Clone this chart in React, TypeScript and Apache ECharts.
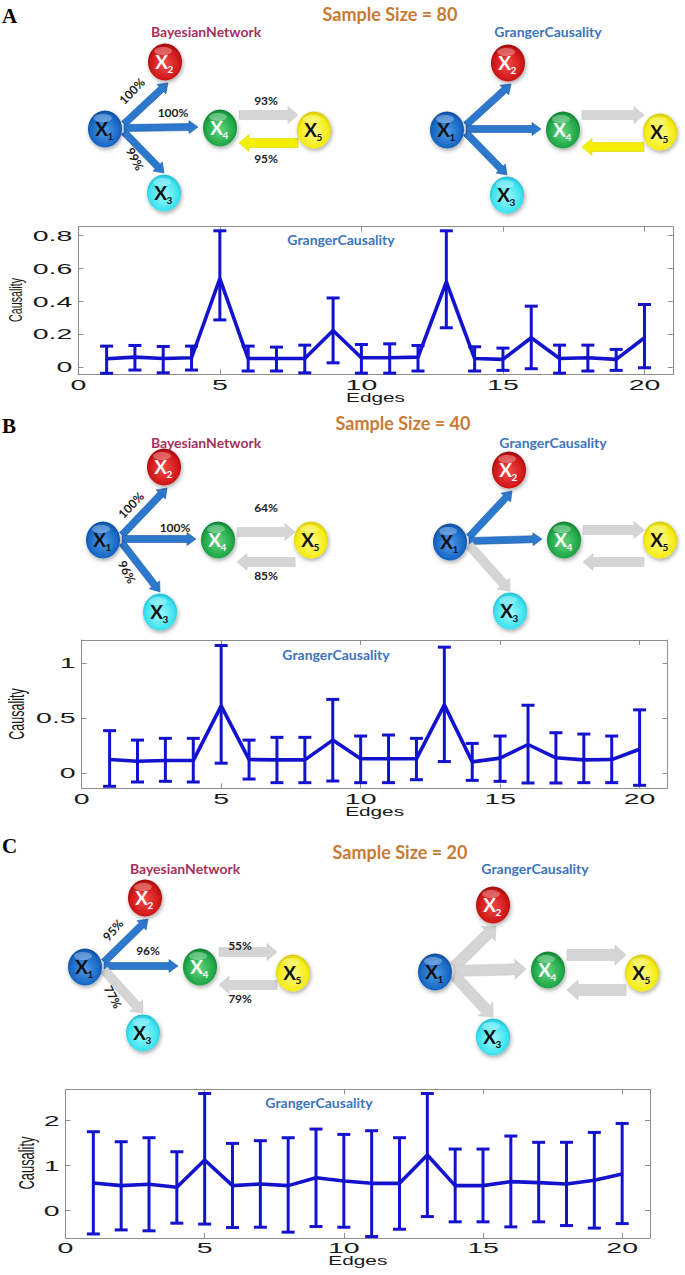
import React, { useEffect, useRef } from "react";
import * as echarts from "echarts";

// ---------------- data ----------------
const edges = [1, 2, 3, 4, 5, 6, 7, 8, 9, 10, 11, 12, 13, 14, 15, 16, 17, 18, 19, 20];

const meanA = [0.049, 0.059, 0.05, 0.055, 0.538, 0.05, 0.05, 0.05, 0.221, 0.055, 0.055, 0.059, 0.518, 0.05, 0.045, 0.177, 0.05, 0.055, 0.045, 0.177];
const highA = [0.126, 0.13, 0.124, 0.126, 0.83, 0.126, 0.12, 0.132, 0.42, 0.136, 0.14, 0.13, 0.83, 0.122, 0.114, 0.37, 0.132, 0.132, 0.106, 0.38];
const lowA = [-0.04, -0.02, -0.037, -0.02, 0.286, -0.026, -0.026, -0.037, 0.024, -0.039, -0.039, -0.026, 0.238, -0.026, -0.022, -0.012, -0.039, -0.026, -0.022, -0.006];

const meanB = [0.123, 0.108, 0.114, 0.114, 0.611, 0.123, 0.12, 0.12, 0.3, 0.13, 0.13, 0.13, 0.62, 0.102, 0.136, 0.26, 0.139, 0.12, 0.123, 0.217];
const highB = [0.386, 0.3, 0.316, 0.316, 1.16, 0.3, 0.325, 0.325, 0.67, 0.337, 0.346, 0.316, 1.145, 0.27, 0.337, 0.617, 0.367, 0.355, 0.337, 0.575];
const lowB = [-0.12, -0.081, -0.075, -0.081, 0.09, -0.054, -0.087, -0.087, -0.072, -0.087, -0.087, -0.06, 0.105, -0.066, -0.075, -0.09, -0.09, -0.087, -0.087, -0.111];

const meanC = [0.615, 0.556, 0.585, 0.52, 1.126, 0.556, 0.593, 0.556, 0.733, 0.66, 0.607, 0.607, 1.237, 0.556, 0.556, 0.644, 0.622, 0.593, 0.674, 0.815];
const highC = [1.756, 1.533, 1.622, 1.31, 2.607, 1.496, 1.556, 1.622, 1.815, 1.696, 1.778, 1.622, 2.607, 1.37, 1.37, 1.66, 1.52, 1.52, 1.74, 1.94];
const lowC = [-0.52, -0.43, -0.45, -0.28, -0.3, -0.378, -0.37, -0.48, -0.355, -0.37, -0.578, -0.415, -0.133, -0.25, -0.25, -0.363, -0.25, -0.333, -0.39, -0.289];

const xTicks = [0, 5, 10, 15, 20];
const yTicksA = [0, 0.2, 0.4, 0.6, 0.8];
const yTicksB = [0, 0.5, 1];
const yTicksC = [0, 1, 2];

const panelLetters = ["A", "B", "C"];
const sampleSizes = [80, 40, 20];
const bnPctA = [100, 100, 99, 93, 95];
const bnPctB = [100, 100, 96, 64, 85];
const bnPctC = [95, 96, 77, 55, 79];

// arrow kinds: X1->X2, X1->X4, X1->X3, X4->X5, X5->X4
const bnKindsA = ["blue", "blue", "blue", "gray", "yellow"];
const gcKindsA = ["blue", "blue", "blue", "gray", "yellow"];
const bnKindsB = ["blue", "blue", "blue", "gray", "gray"];
const gcKindsB = ["blue", "blue", "gray", "gray", "gray"];
const bnKindsC = ["blue", "blue", "gray", "gray", "gray"];
const gcKindsC = ["grayBig", "grayBig", "grayBig", "grayBig", "grayBig"];

// ---------------- layout / style ----------------
const AX_FONT = "'Liberation Sans', Arial, Helvetica, sans-serif";
const LBL_FONT = "Lato, 'Open Sans', 'Noto Sans', sans-serif";
const BOX = "#8e8e8e";
const LINE_BLUE = "#1212cf";

const chartLayout = [
  { left: 78.3, top: 226.7, width: 594.5, height: 147.6, yMin: -0.046, yMax: 0.855, gc: [341, 239], caus: [15, 300, 10.7], edgesPos: [375.5, 397.5] },
  { left: 81.7, top: 640, width: 585.8, height: 148.5, yMin: -0.14, yMax: 1.21, gc: [336, 654], caus: [17, 714, 12.5], edgesPos: [374.6, 811.5] },
  { left: 65.5, top: 1089.3, width: 584.5, height: 148.7, yMin: -0.61, yMax: 2.7, gc: [319, 1102], caus: [27, 1163, 12.9], edgesPos: [357.8, 1261] },
];

const headerLayout = [
  { letter: [2, 16], sample: [390, 14], bn: [206, 31], gcTop: [548, 31] },
  { letter: [2, 426], sample: [403, 423], bn: [206, 442], gcTop: [553, 442] },
  { letter: [2, 846], sample: [400, 852], bn: [185, 868], gcTop: [535, 868] },
];

// node centres X1..X5
const netLayout = [
  {
    bn: { nodes: [[105, 129], [165, 62], [164, 193], [220, 128], [314, 130]], top: 115, bot: 143 },
    gc: { nodes: [[447, 130], [508, 63], [507, 195], [563, 130], [660, 132]], top: 115, bot: 147 },
    labels: [[132, 91, 0.8], [173, 112, 0], [135, 159, -1.1], [266, 100, 0], [266, 158, 0]],
  },
  {
    bn: { nodes: [[103, 540], [164, 467], [160, 612], [218, 540], [311, 540]], top: 532, bot: 562 },
    gc: { nodes: [[450, 542], [509, 470], [510, 611], [564, 540], [660, 540]], top: 530, bot: 562 },
    labels: [[131, 505, 0.8], [175, 527, 0], [127, 572, -1.1], [266, 507, 0], [266, 575, 0]],
  },
  {
    bn: { nodes: [[85, 967], [145, 898], [143, 1033], [200, 967], [293, 973]], top: 952, bot: 985 },
    gc: { nodes: [[435, 972], [493, 905], [493, 1037], [548, 970], [642, 973]], top: 955, bot: 990 },
    labels: [[113, 930, 0.85], [148, 950, 0], [113, 997, -1.1], [240, 945, 0], [240, 998, 0]],
  },
];

const nodeColors = [
  { light: "#4f9ae6", main: "#1766c4", dark: "#0a3b7e", text: "#111" },
  { light: "#f04a4a", main: "#cf1616", dark: "#760606", text: "#fff" },
  { light: "#a4f8fc", main: "#3ae2f0", dark: "#12a6bd", text: "#111" },
  { light: "#5fd47c", main: "#1fa646", dark: "#0a6426", text: "#fff" },
  { light: "#fffb90", main: "#f4ec12", dark: "#bfae00", text: "#111" },
];

const arrowStyles: Record<string, { fill: string; stroke: string; w: number; hw: number; hl: number }> = {
  blue: { fill: "#2c78cc", stroke: "#1c5ca6", w: 7, hw: 13, hl: 9 },
  gray: { fill: "#d5d5d5", stroke: "#c8c8c8", w: 9, hw: 17, hl: 10 },
  yellow: { fill: "#f4ef00", stroke: "#dcd400", w: 9, hw: 17, hl: 10 },
  grayBig: { fill: "#d5d5d5", stroke: "#c8c8c8", w: 11, hw: 20, hl: 11 },
};

function arrowPoints(x1: number, y1: number, x2: number, y2: number, w: number, hw: number, hl: number) {
  const dx = x2 - x1, dy = y2 - y1;
  const L = Math.hypot(dx, dy);
  const ux = dx / L, uy = dy / L;
  const nx = -uy, ny = ux;
  const bx = x2 - ux * hl, by = y2 - uy * hl;
  return [
    [x1 + (nx * w) / 2, y1 + (ny * w) / 2],
    [bx + (nx * w) / 2, by + (ny * w) / 2],
    [bx + (nx * hw) / 2, by + (ny * hw) / 2],
    [x2, y2],
    [bx - (nx * hw) / 2, by - (ny * hw) / 2],
    [bx - (nx * w) / 2, by - (ny * w) / 2],
    [x1 - (nx * w) / 2, y1 - (ny * w) / 2],
  ];
}

function arrowEl(from: number[], to: number[], kind: string) {
  const s = arrowStyles[kind];
  return {
    type: "polygon",
    shape: { points: arrowPoints(from[0], from[1], to[0], to[1], s.w, s.hw, s.hl) },
    style: { fill: s.fill, stroke: s.stroke, lineWidth: 0.6 },
    z: 5,
    silent: true,
  };
}

function textEl(text: string, x: number, y: number, o: any = {}) {
  return {
    type: "text",
    x,
    y,
    rotation: o.rotation || 0,
    scaleX: o.scaleX || 1,
    scaleY: o.scaleY || 1,
    z: o.z || 20,
    silent: true,
    style: {
      text,
      fontSize: o.fontSize || 12,
      fontFamily: o.fontFamily || LBL_FONT,
      fontWeight: o.fontWeight || "normal",
      fill: o.fill || "#222",
      textAlign: o.align || "center",
      textVerticalAlign: "middle",
      align: o.align || "center",
      verticalAlign: "middle",
    },
  };
}

function sphereEls(c: number[], i: number) {
  const col = nodeColors[i];
  const [cx, cy] = c;
  return [
    {
      type: "ellipse",
      shape: { cx, cy, rx: 17, ry: 18.5 },
      style: {
        fill: new echarts.graphic.RadialGradient(0.5, 0.55, 0.62, [
          { offset: 0, color: col.light },
          { offset: 0.7, color: col.main },
          { offset: 1, color: col.dark },
        ]),
        shadowBlur: 4,
        shadowColor: "rgba(0,0,0,0.35)",
        shadowOffsetX: 1,
        shadowOffsetY: 2,
      },
      z: 10,
      silent: true,
    },
    {
      type: "ellipse",
      shape: { cx: cx - 2, cy: cy - 11, rx: 9, ry: 4 },
      style: { fill: "rgba(255,255,255,0.3)" },
      z: 11,
      silent: true,
    },
    textEl("X", cx - 3.5, cy - 0.5, { fontSize: 19, fontWeight: "bold", fill: col.text, z: 12 }),
    textEl(String(i + 1), cx + 5.5, cy + 6.5, { fontSize: 10, fontWeight: "bold", fill: col.text, z: 12 }),
  ];
}

function networkEls(net: any, kinds: string[]) {
  const [n1, n2, n3, n4, n5] = net.nodes;
  const els: any[] = [];
  els.push(arrowEl([n1[0] + 19, n1[1] - 5], [n2[0] + 3, n2[1] + 21], kinds[0]));
  els.push(arrowEl([n1[0] + 19, n1[1] - 1], [n4[0] - 22, n4[1] - 1], kinds[1]));
  els.push(arrowEl([n1[0] + 19, n1[1] + 3], [n3[0], n3[1] - 20], kinds[2]));
  els.push(arrowEl([n4[0] + 19, net.top], [n5[0] - 16, net.top], kinds[3]));
  els.push(arrowEl([n5[0] - 16, net.bot], [n4[0] + 19, net.bot], kinds[4]));
  net.nodes.forEach((c: number[], i: number) => els.push(...sphereEls(c, i)));
  return els;
}

function buildOption() {
  const means = [meanA, meanB, meanC];
  const lows = [lowA, lowB, lowC];
  const highs = [highA, highB, highC];
  const yTicks = [yTicksA, yTicksB, yTicksC];
  const pcts = [bnPctA, bnPctB, bnPctC];
  const bnKinds = [bnKindsA, bnKindsB, bnKindsC];
  const gcKinds = [gcKindsA, gcKindsB, gcKindsC];

  const grid: any[] = [];
  const xAxis: any[] = [];
  const yAxis: any[] = [];
  const series: any[] = [];
  const graphics: any[] = [];

  chartLayout.forEach((L, g) => {
    grid.push({ left: L.left, top: L.top, width: L.width, height: L.height, show: false, containLabel: false });
    const axisCommon = {
      gridIndex: g,
      type: "value",
      axisLine: { show: true, onZero: false, lineStyle: { color: BOX, width: 1 } },
      axisLabel: { show: false },
      splitLine: { show: false },
    };
    ["bottom", "top"].forEach((pos) =>
      xAxis.push({
        ...axisCommon,
        position: pos,
        min: 0,
        max: 21,
        axisTick: { show: true, inside: true, length: 5, customValues: xTicks, lineStyle: { color: BOX } },
      })
    );
    ["left", "right"].forEach((pos) =>
      yAxis.push({
        ...axisCommon,
        position: pos,
        min: L.yMin,
        max: L.yMax,
        axisTick: { show: true, inside: true, length: 5, customValues: yTicks[g], lineStyle: { color: BOX } },
      })
    );

    const xi = 2 * g;
    series.push({
      type: "line",
      xAxisIndex: xi,
      yAxisIndex: xi,
      data: edges.map((e, i) => [e, means[g][i]]),
      symbol: "none",
      lineStyle: { color: LINE_BLUE, width: 3.6 },
      z: 3,
      silent: true,
    });
    series.push({
      type: "custom",
      xAxisIndex: xi,
      yAxisIndex: xi,
      clip: false,
      silent: true,
      z: 4,
      data: edges.map((e, i) => [e, means[g][i], lows[g][i], highs[g][i]]),
      encode: { x: 0, y: [1, 2, 3] },
      renderItem: (params: any, api: any) => {
        const x = api.value(0);
        const lo = api.coord([x, api.value(2)]);
        const hi = api.coord([x, api.value(3)]);
        const cw = 6.5;
        const st = { stroke: LINE_BLUE, lineWidth: 3 };
        return {
          type: "group",
          children: [
            { type: "line", shape: { x1: lo[0], y1: lo[1], x2: hi[0], y2: hi[1] }, style: st },
            { type: "line", shape: { x1: lo[0] - cw, y1: lo[1], x2: lo[0] + cw, y2: lo[1] }, style: st },
            { type: "line", shape: { x1: hi[0] - cw, y1: hi[1], x2: hi[0] + cw, y2: hi[1] }, style: st },
          ],
        };
      },
    });
    // y tick labels
    series.push({
      type: "custom",
      xAxisIndex: xi,
      yAxisIndex: xi,
      clip: false,
      silent: true,
      z: 6,
      data: yTicks[g].map((v) => [0, v]),
      renderItem: (params: any, api: any) => {
        const v = api.value(1);
        const c = api.coord([0, v]);
        return {
          type: "text",
          x: c[0] - 6,
          y: c[1],
          scaleX: 1.9,
          style: {
            text: String(v),
            fontSize: 15,
            fontFamily: AX_FONT,
            fill: "#1a1a1a",
            align: "right",
            verticalAlign: "middle",
            textAlign: "right",
            textVerticalAlign: "middle",
          },
        };
      },
    });
    // x tick labels
    series.push({
      type: "custom",
      xAxisIndex: xi,
      yAxisIndex: xi,
      clip: false,
      silent: true,
      z: 6,
      data: xTicks.map((v) => [v, L.yMin]),
      renderItem: (params: any, api: any) => {
        const v = api.value(0);
        const c = api.coord([v, L.yMin]);
        return {
          type: "text",
          x: c[0],
          y: c[1] + 2.5,
          scaleX: 1.9,
          style: {
            text: String(v),
            fontSize: 15,
            fontFamily: AX_FONT,
            fill: "#1a1a1a",
            align: "center",
            verticalAlign: "top",
            textAlign: "center",
            textVerticalAlign: "top",
          },
        };
      },
    });

    // axis names and inner title
    graphics.push(textEl("Edges", L.edgesPos[0], L.edgesPos[1], { fontSize: 13, fontFamily: AX_FONT, fill: "#1a1a1a", scaleX: 1.6 }));
    graphics.push(
      textEl("Causality", L.caus[0], L.caus[1], { fontSize: L.caus[2], fontFamily: AX_FONT, fill: "#1a1a1a", rotation: Math.PI / 2, scaleY: 1.7 })
    );
    graphics.push(textEl("GrangerCausality", L.gc[0], L.gc[1], { fontSize: 14, fontWeight: "bold", fill: "#3c74bd" }));

    // headers
    const H = headerLayout[g];
    graphics.push(
      textEl(panelLetters[g], H.letter[0], H.letter[1], { fontSize: 21, fontWeight: "bold", fontFamily: "'Liberation Serif', 'Times New Roman', serif", fill: "#000", align: "left" })
    );
    graphics.push(textEl(`Sample Size = ${sampleSizes[g]}`, H.sample[0], H.sample[1], { fontSize: 18, fontWeight: "bold", fill: "#c97a34" }));
    graphics.push(textEl("BayesianNetwork", H.bn[0], H.bn[1], { fontSize: 14, fontWeight: "bold", fill: "#a8305e" }));
    graphics.push(textEl("GrangerCausality", H.gcTop[0], H.gcTop[1], { fontSize: 14, fontWeight: "bold", fill: "#3c74bd" }));

    // networks
    const N = netLayout[g];
    graphics.push(...networkEls(N.bn, bnKinds[g]));
    graphics.push(...networkEls(N.gc, gcKinds[g]));
    N.labels.forEach((lb, k) => {
      graphics.push(textEl(`${pcts[g][k]}%`, lb[0], lb[1], { fontSize: 12, fontWeight: "bold", fill: "#1e1e1e", rotation: lb[2] }));
    });
  });

  return {
    animation: false,
    backgroundColor: "#ffffff",
    grid,
    xAxis,
    yAxis,
    series,
    graphic: { elements: graphics },
  };
}

export default function App() {
  const ref = useRef<HTMLDivElement>(null);
  useEffect(() => {
    if (!ref.current) return;
    const chart = echarts.init(ref.current, null, { renderer: "svg" });
    chart.setOption(buildOption() as any);
    return () => chart.dispose();
  }, []);
  return (
    <div
      ref={ref}
      style={{ position: "absolute", left: 0, top: 0, width: 685, height: 1275, background: "#fff" }}
    />
  );
}
